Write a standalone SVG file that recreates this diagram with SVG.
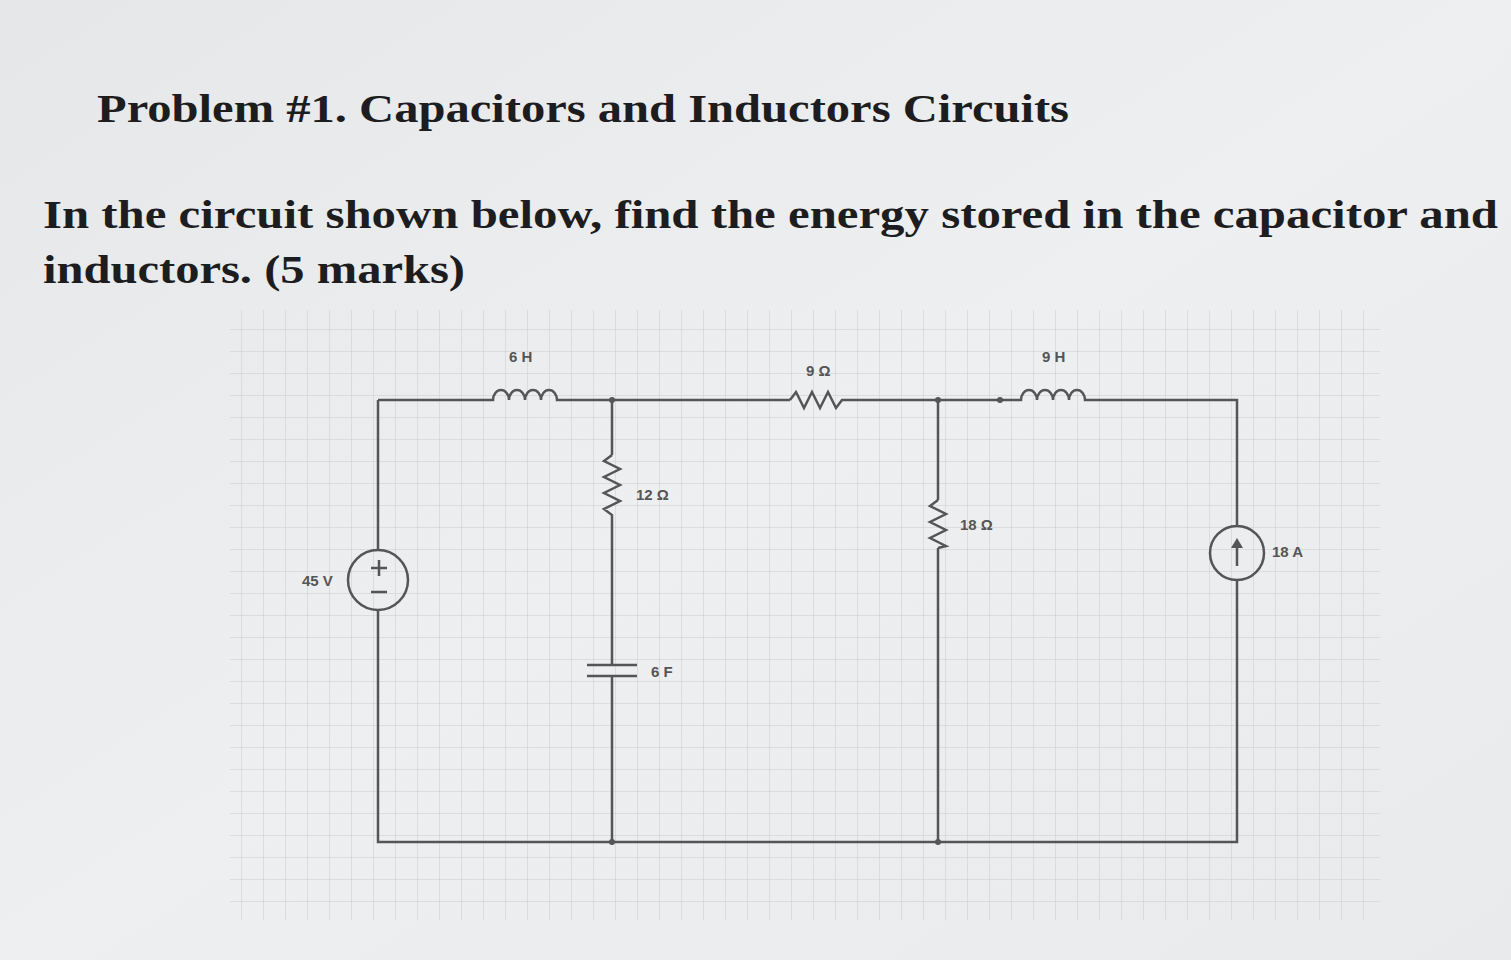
<svg xmlns="http://www.w3.org/2000/svg" width="1511" height="960" viewBox="0 0 1511 960">
<defs>
<pattern id="g" width="22" height="22" patternUnits="userSpaceOnUse"><path d="M22 0V22H0" fill="none" stroke="#c9cbcc" stroke-width="1"/></pattern>
<linearGradient id="bg" x1="0" y1="0" x2="1" y2="1"><stop offset="0" stop-color="#e6e7e9"/><stop offset="0.5" stop-color="#eeeff0"/><stop offset="1" stop-color="#e9eaeb"/></linearGradient>
</defs>
<style>
.t{font-family:"Liberation Serif","DejaVu Serif",serif;font-weight:bold;fill:#1d1d1f}
.w{fill:none;stroke:#555;stroke-width:2.5}
.l{font-family:"Liberation Sans",Arial,sans-serif;font-weight:bold;font-size:15px;fill:#555}
</style>
<rect width="1511" height="960" fill="url(#bg)"/>
<rect x="230" y="310" width="1150" height="610" fill="url(#g)"/>
<text class="t" x="97" y="122" font-size="40" textLength="972" lengthAdjust="spacingAndGlyphs">Problem #1.  Capacitors and Inductors Circuits</text>
<text class="t" x="43" y="228" font-size="40" textLength="1455" lengthAdjust="spacingAndGlyphs">In the circuit shown below, find the energy stored in the capacitor and</text>
<text class="t" x="43" y="283" font-size="40" textLength="422" lengthAdjust="spacingAndGlyphs">inductors. (5 marks)</text>
<g id="connectors">
<path class="w" d="M378 400H487M565 400H790M855 400H1015M1095 400H1237V526M1237 580V842H378V610M378 550V400"/>
<path class="w" d="M612 400V455M612 522V665M612 676V842"/>
<path class="w" d="M938 400V500M938 548V842"/>
</g>
<g id="L1"><path class="w" d="M487 400h6a8 10 0 0 1 16 0a8 10 0 0 1 16 0a8 10 0 0 1 16 0a8 10 0 0 1 16 0h8"/><text class="l" x="509" y="362">6 H</text></g>
<g id="R9"><path class="w" d="M790 400l6-8 8 16 8-16 8 16 8-16 8 16 6-8h13"/><text class="l" x="806" y="376">9 Ω</text></g>
<g id="L2"><path class="w" d="M1015 400h6a8 10 0 0 1 16 0a8 10 0 0 1 16 0a8 10 0 0 1 16 0a8 10 0 0 1 16 0h10"/><text class="l" x="1042" y="362">9 H</text></g>
<g id="R12"><path class="w" d="M612 455l-8 6 16 8-16 8 16 8-16 8 16 8-16 8 8 6v7"/><text class="l" x="636" y="500">12 Ω</text></g>
<g id="C"><path class="w" d="M587 665H637M587 676H637"/><text class="l" x="651" y="677">6 F</text></g>
<g id="R18"><path class="w" d="M938 500l-8 6 16 8-16 8 16 8-16 8 16 8-8 2"/><text class="l" x="960" y="530">18 Ω</text></g>
<g id="V"><circle cx="378" cy="580" r="30" class="w" fill="none"/><path class="w" d="M371 568h16M379 560v16M371 592h16"/><text class="l" x="302" y="586">45 V</text></g>
<g id="I"><circle cx="1237" cy="553" r="27" class="w" fill="none"/><path class="w" d="M1237 566V546"/><path d="M1231 548l6-10 6 10z" fill="#555"/><text class="l" x="1272" y="557">18 A</text></g>
<g id="dots" fill="#555"><circle cx="612" cy="400" r="3"/><circle cx="938" cy="400" r="3"/><circle cx="612" cy="842" r="3"/><circle cx="938" cy="842" r="3"/><circle cx="1000" cy="400" r="3"/></g>
</svg>
